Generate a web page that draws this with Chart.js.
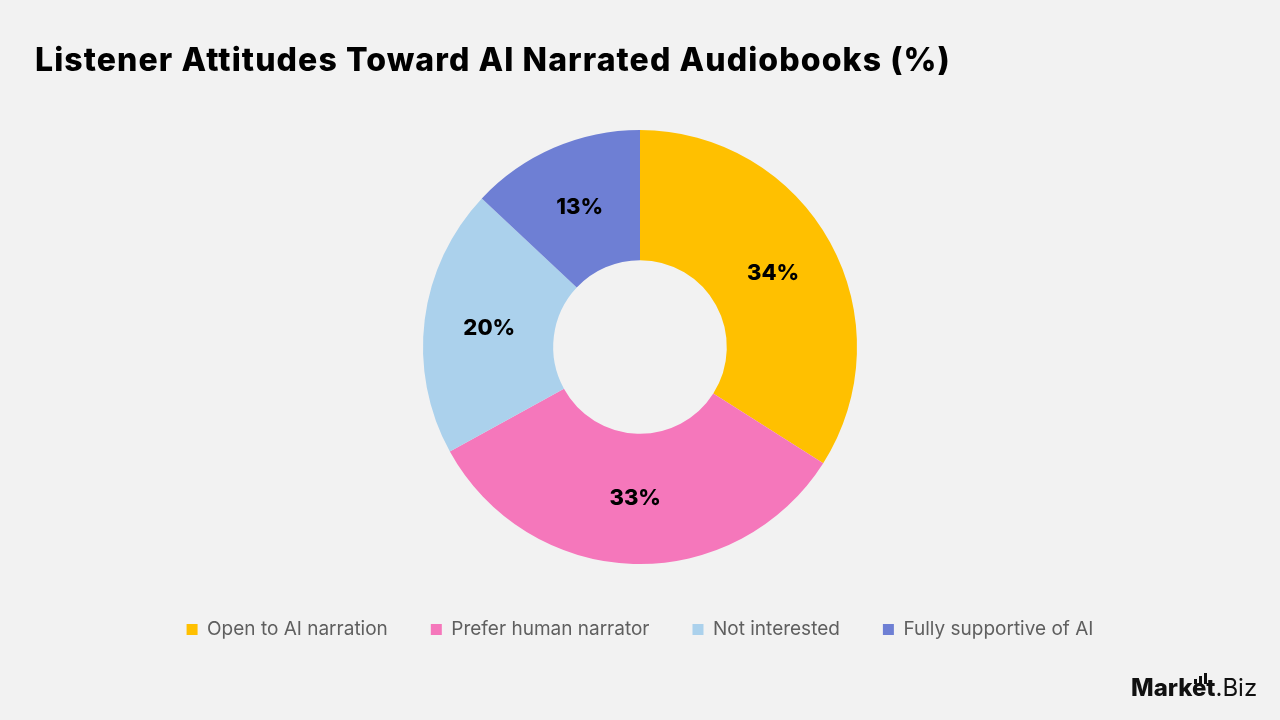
<!DOCTYPE html>
<html>
<head>
<meta charset="utf-8">
<script src="https://cdn.jsdelivr.net/npm/chart.js@4.4.1/dist/chart.umd.min.js"></script>
<style>
  html, body { margin: 0; padding: 0; background: #f2f2f2; }
  #wrap { position: relative; width: 1280px; height: 720px; overflow: hidden; }
  #title {
    position: absolute; left: 35px; top: 40px;
    font-family: Inter, sans-serif; font-weight: 800; font-size: 32px; color: #000;
    letter-spacing: 1.1px; white-space: nowrap;
  }
  #chart { position: absolute; left: 0; top: 0; }
  #logo {
    position: absolute; left: 1131px; top: 673px;
    font-family: Inter, sans-serif; font-size: 24px; color: #111; white-space: nowrap;
  }
  #logo b { font-weight: 800; }
  .bar { position: absolute; width: 3px; background: #111; }
</style>
</head>
<body>
<div id="wrap">
  <canvas id="chart" width="1280" height="720"></canvas>
  <div id="title">Listener Attitudes Toward AI Narrated Audiobooks (%)</div>
  <div id="logo"><b>Market</b>.Biz</div>
  <div class="bar" style="left:1194px; top:679px; height:5px"></div>
  <div class="bar" style="left:1199px; top:676px; height:8px"></div>
  <div class="bar" style="left:1204px; top:673px; height:11px"></div>
</div>
<script>
var categories = ['Open to AI narration', 'Prefer human narrator', 'Not interested', 'Fully supportive of AI']
var shares = [34, 33, 20, 13]
var colors = ['#ffc000', '#f577bb', '#abd1ec', '#6e7fd4']

// percentage labels in the middle of each slice
const sliceLabels = {
  id: 'sliceLabels',
  afterDatasetsDraw(chart) {
    const ctx = chart.ctx
    const meta = chart.getDatasetMeta(0)
    ctx.save()
    ctx.font = '800 22px Inter, sans-serif'
    ctx.fillStyle = '#000'
    ctx.textAlign = 'center'
    ctx.textBaseline = 'middle'
    meta.data.forEach(function (arc, i) {
      const p = arc.tooltipPosition()
      ctx.fillText(shares[i] + '%', p.x, p.y)
    })
    ctx.restore()
  },
}

// push the legend further down below the doughnut
const legendGap = {
  id: 'legendGap',
  beforeInit(chart) {
    const fit = chart.legend.fit
    chart.legend.fit = function () {
      fit.bind(chart.legend)()
      this.height += 31
    }
  },
}

var chartElement = document.getElementById('chart').getContext('2d')

const config = {
  type: 'doughnut',
  data: {
    labels: categories,
    datasets: [
      {
        data: shares,
        backgroundColor: colors,
        borderWidth: 0,
        hoverOffset: 0,
      },
    ],
  },
  options: {
    responsive: false,
    animation: false,
    cutout: '40%',
    radius: 217,
    layout: { padding: { top: 117, bottom: 40 } },
    plugins: {
      legend: {
        position: 'bottom',
        labels: {
          boxWidth: 11,
          boxHeight: 11,
          padding: 43,
          color: '#5f5f5f',
          font: { family: 'Inter, sans-serif', size: 19 },
        },
      },
      tooltip: { enabled: false },
    },
  },
  plugins: [sliceLabels, legendGap],
}

var chart = new Chart(chartElement, config)
</script>
</body>
</html>
